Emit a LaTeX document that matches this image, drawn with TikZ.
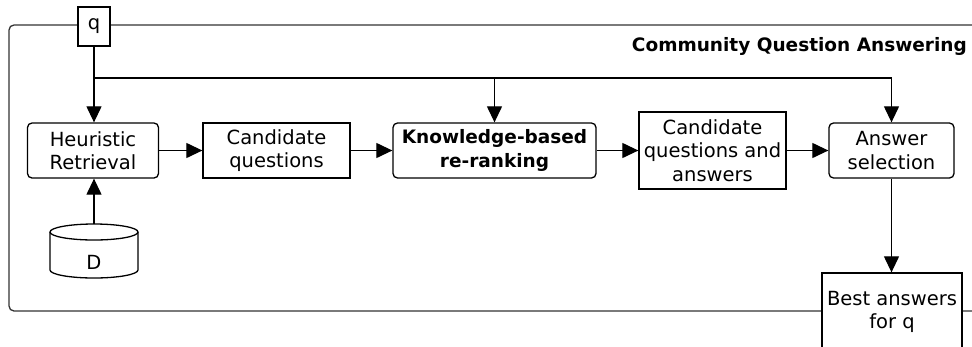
\documentclass[tikz,border=0pt]{standalone}
\usepackage{fontspec}
\setmainfont{DejaVu Sans}
\usetikzlibrary{arrows.meta}
\begin{document}
\begin{tikzpicture}[x=1pt,y=-1pt,
  every node/.style={font=\fontsize{19.5}{23.5}\selectfont, align=center, inner sep=0pt},
  box/.style={draw=black, line width=1.3pt, fill=white},
  rbox/.style={box, rounded corners=4.5pt},
  arr/.style={line width=1.2pt, -{Triangle[length=16pt,width=15pt]}},
  frame/.style={draw=black!80, line width=1.3pt, rounded corners=5pt}]
\useasboundingbox (0,0) rectangle (972,346);
\draw[frame] (9,25) rectangle (1000,311);
\node[box, minimum width=32pt, minimum height=39pt] (q) at (94,26.5) {q};
\node[anchor=east, font=\fontsize{18.5}{22}\selectfont\bfseries] (title) at (967,46) {Community Question Answering};
\node[rbox, minimum width=131pt, minimum height=55pt] (HR) at (93,150.5) {Heuristic\\Retrieval};
\node[box, minimum width=147pt, minimum height=55pt] (CQ) at (276.5,150.5) {Candidate\\questions};
\node[rbox, minimum width=203pt, minimum height=55pt, font=\fontsize{18.5}{23.5}\selectfont\bfseries] (KB) at (494.5,150.5) {Knowledge-based\\re-ranking};
\node[box, minimum width=147pt, minimum height=77pt] (CQA) at (712.5,150.5) {Candidate\\questions and\\answers};
\node[rbox, minimum width=125pt, minimum height=55pt] (AS) at (891.5,150.5) {Answer\\selection};
\node[box, minimum width=140pt, minimum height=78pt] (BA) at (892,312) {Best answers\\for q};
% database cylinder
\node[minimum width=88pt, minimum height=54pt] (D) at (94,251) {};
\draw[line width=1.3pt, fill=white] (50,232) -- (50,270) arc[start angle=180, end angle=360, x radius=44pt, y radius=8pt] -- (138,232);
\draw[line width=1.3pt, fill=white] (94,232) ellipse[x radius=44pt, y radius=8pt];
\node (Dtext) at (94,262) {D};
\coordinate (split) at (94,78);
\draw[arr] (q.south) -- (q.south |- HR.north);
\draw[line width=1.2pt] (split) -- (KB.north |- split);
\draw[arr] (KB.north |- split) -- (KB.north);
\draw[arr] (split) -| (AS.north);
\draw[arr] (D.north) -- (D.north |- HR.south);
\draw[arr] (HR.east) -- (CQ.west);
\draw[arr] (CQ.east) -- (KB.west);
\draw[arr] (KB.east) -- (CQA.west);
\draw[arr] (CQA.east) -- (AS.west);
\draw[arr] (AS.south) -- (AS.south |- BA.north);
\end{tikzpicture}
\end{document}
